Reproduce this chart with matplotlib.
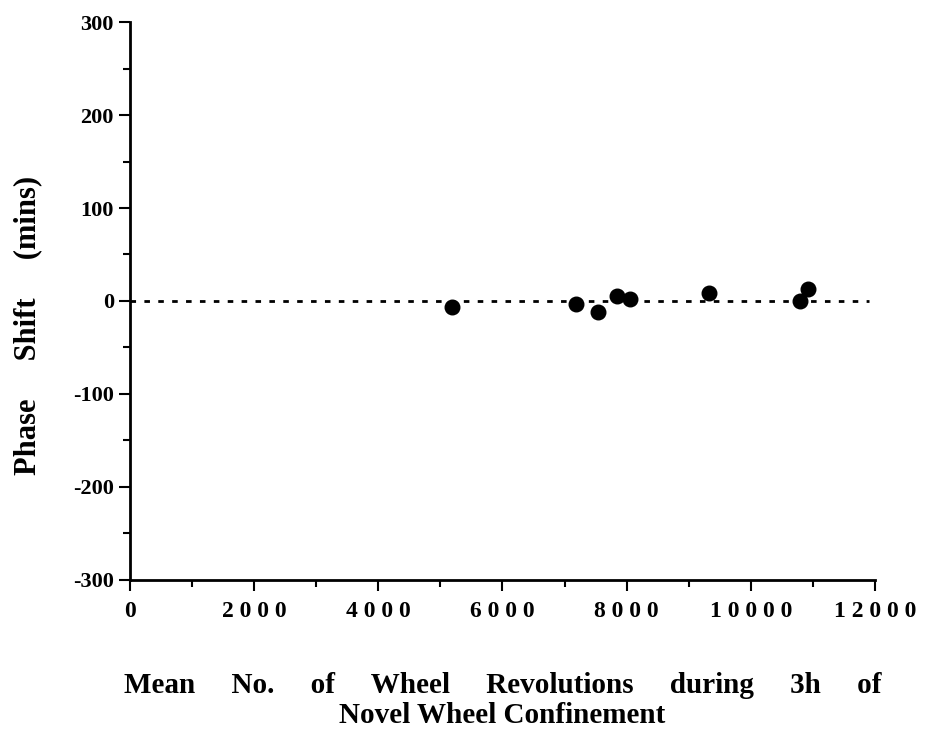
import matplotlib.pyplot as plt
from matplotlib.ticker import MultipleLocator

# wheel revolutions vs phase shift
revolutions = [5190, 7180, 7540, 7840, 8050, 9330, 10790, 10920]
phase_shift = [-6, -3, -12, 5, 2, 9, 0, 13]

x_ticks = [0, 2000, 4000, 6000, 8000, 10000, 12000]
y_ticks = [-300, -200, -100, 0, 100, 200, 300]

plt.rcParams['font.family'] = ['Liberation Serif', 'DejaVu Serif']
plt.rcParams['font.weight'] = 'bold'

fig = plt.figure(figsize=(9.27, 7.35), dpi=100)
ax = fig.add_axes([0.140, 0.211, 0.804, 0.759])

ax.plot([0, 11900], [0, 0], linestyle=(0, (2, 3)), color='black', lw=2)
ax.scatter(revolutions, phase_shift, s=110, color='black', zorder=3)

ax.set_xlim(0, 12000)
ax.set_ylim(-300, 300)
ax.set_xticks(x_ticks)
ax.set_yticks(y_ticks)
ax.xaxis.set_minor_locator(MultipleLocator(1000))
ax.yaxis.set_minor_locator(MultipleLocator(50))
ax.set_xticklabels([' '.join(str(t)) for t in x_ticks], fontsize=17, fontweight='bold')
ax.set_yticklabels([str(t) for t in y_ticks], fontsize=16, fontweight='bold')

ax.spines['top'].set_visible(False)
ax.spines['right'].set_visible(False)
ax.spines['left'].set_linewidth(2)
ax.spines['bottom'].set_linewidth(2)
ax.tick_params(which='major', direction='out', length=8, width=1.5)
ax.tick_params(which='minor', direction='out', length=5, width=1.5)
ax.tick_params(axis='x', pad=7)

ax.set_xlabel('Mean     No.     of     Wheel     Revolutions     during     3h     of\nNovel Wheel Confinement',
              fontsize=21, fontweight='bold', labelpad=36, linespacing=1.15)
ax.set_ylabel('Phase     Shift     (mins)', fontsize=22, fontweight='bold')
ax.yaxis.set_label_coords(-0.118, 0.457)

fig.savefig('out.png', dpi=100)
